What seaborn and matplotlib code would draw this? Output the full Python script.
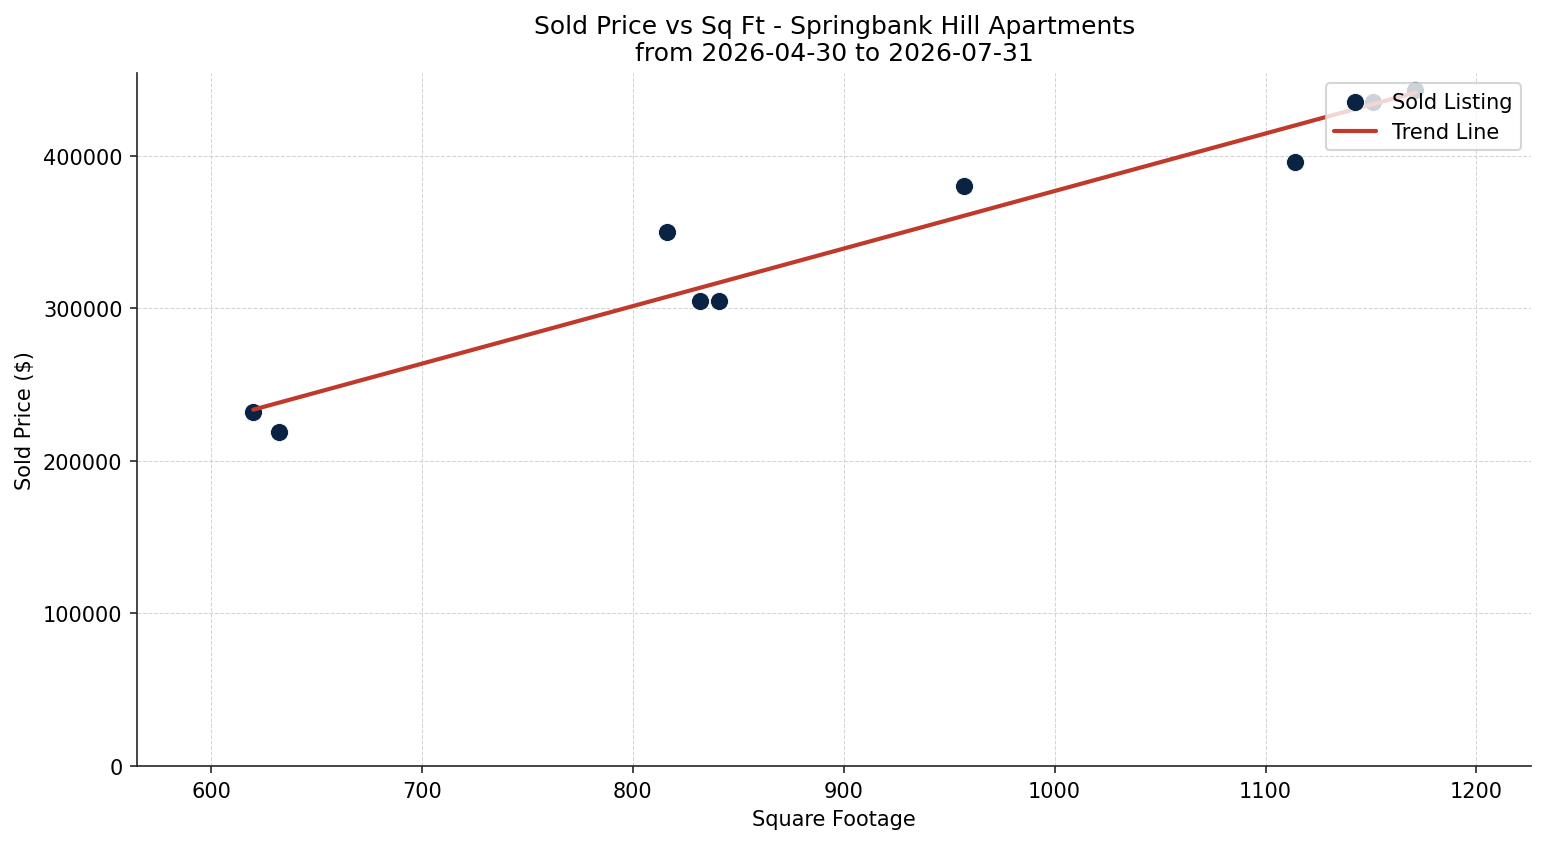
import matplotlib
matplotlib.use("Agg")
import matplotlib.pyplot as plt
import seaborn as sns
import numpy as np
import pandas as pd

# values
sqft = [620, 632, 816, 832, 841, 957, 1114, 1151, 1171]
sold_price = [232000, 219000, 350000, 305000, 305000, 380000, 396000, 435000, 443000]

df = pd.DataFrame({"sqft": sqft, "price": sold_price})

sns.set_style("ticks")
plt.rcParams['font.family'] = ['DejaVu Sans']
plt.rcParams['text.color'] = 'black'
plt.rcParams['axes.labelcolor'] = 'black'
plt.rcParams['xtick.labelcolor'] = 'black'
plt.rcParams['ytick.labelcolor'] = 'black'

fig, ax = plt.subplots(figsize=(10.313, 5.633), dpi=150)
fig.subplots_adjust(left=0.0886, right=0.990, top=0.9125, bottom=0.0923)

sns.scatterplot(data=df, x="sqft", y="price", ax=ax, color="#0a2342", s=75,
                edgecolor="white", linewidth=0.4, label="Sold Listing", zorder=3)

# linear trend
m, b = np.polyfit(df["sqft"], df["price"], 1)
xs = np.array([df["sqft"].min(), df["sqft"].max()])
ax.plot(xs, m * xs + b, color="#c0392b", linewidth=2, label="Trend Line", zorder=4)

ax.margins(x=0.1)
ax.set_ylim(bottom=0)
ax.grid(True, linestyle="--", linewidth=0.5, color="#d0d0d0", alpha=0.9)
ax.set_axisbelow(True)
sns.despine(ax=ax)

ax.set_title("Sold Price vs Sq Ft - Springbank Hill Apartments\nfrom 2026-04-30 to 2026-07-31", fontsize=12)
ax.set_xlabel("Square Footage")
ax.set_ylabel("Sold Price ($)")
ax.legend(loc="upper right")

fig.savefig("out.png", dpi=150)
